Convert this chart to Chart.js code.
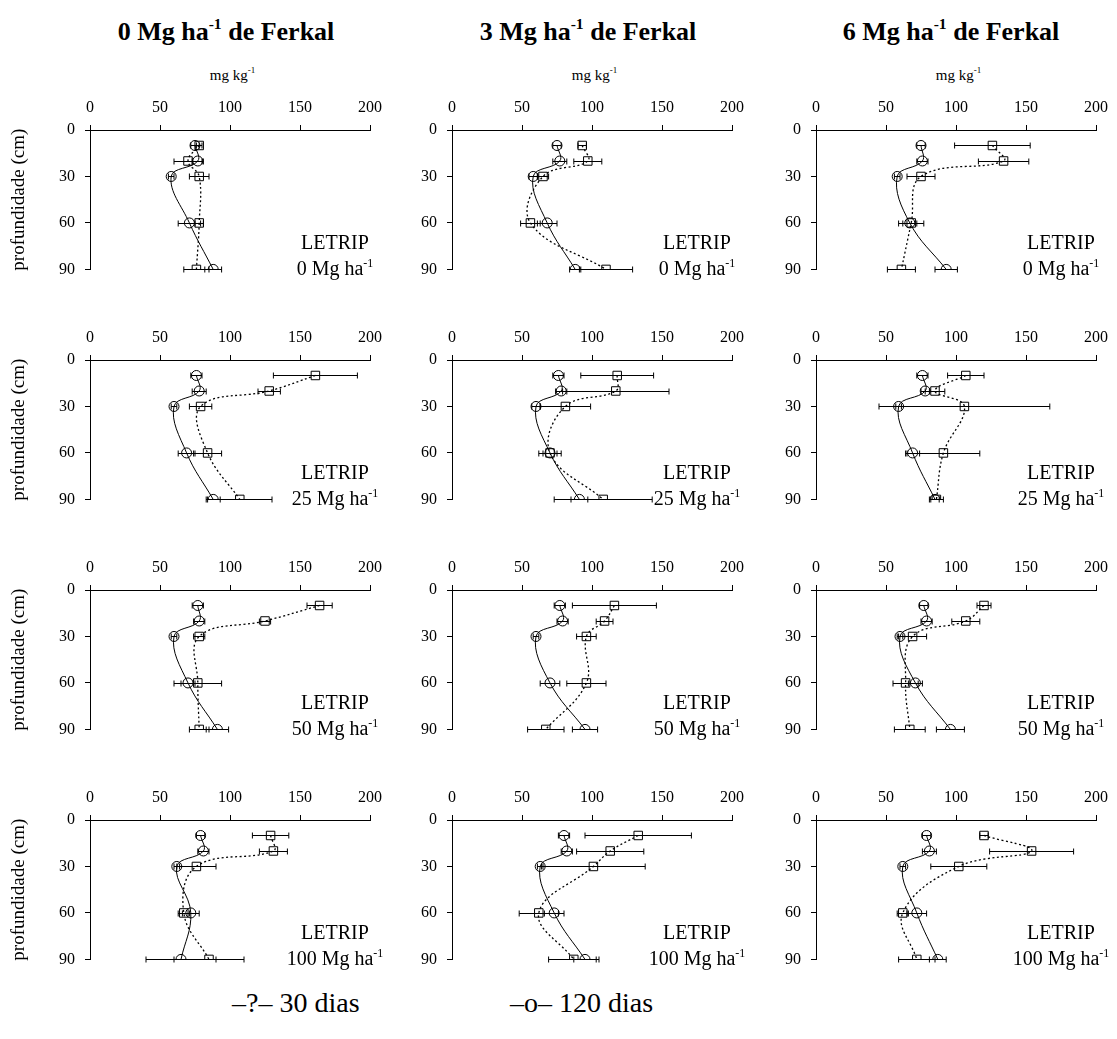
<!DOCTYPE html>
<html>
<head>
<meta charset="utf-8">
<script src="https://cdn.jsdelivr.net/npm/chart.js@4.4.1/dist/chart.umd.min.js"></script>
<style>
  html, body { margin:0; padding:0; background:#fff; }
  #page { position:relative; width:1117px; height:1039px; overflow:hidden; font-family:"Liberation Serif","Times New Roman",serif; color:#000; }
  .title { position:absolute; font-weight:bold; font-size:26px; white-space:nowrap; transform:translate(-50%,-50%); }
  .unit { position:absolute; font-size:15px; white-space:nowrap; transform:translate(-50%,-50%); }
  .lab { position:absolute; font-size:20px; line-height:26px; text-align:center; white-space:nowrap; transform:translateX(-50%); z-index:5; }
  sup { font-size:0.6em; vertical-align:0.7em; line-height:0; }
  canvas.pc { position:absolute; }
  .leg { position:absolute; font-size:28px; white-space:nowrap; transform:translateY(-50%); }
</style>
</head>
<body>
<div id="page"></div>
<script>
// ---------- data ----------
const depths = [10, 20, 30, 60, 90];           // profundidade (cm)
const ferkalDoses = ['0', '3', '6'];            // Mg ha-1 de Ferkal (columns)
const letripDoses = ['0', '25', '50', '100'];   // LETRIP Mg ha-1 (rows)
const xTickStep = 50, xMax = 200;
const yTicks = [0, 30, 60, 90];

// 120 dias (circles) — one row per Ferkal dose (0, 3, 6)
const ci_L0   = [[75,77,58,71,88],[75,77,58,68,88],[75,76,58,67,93]];
const ci_L25  = [[76,78,60,69,88],[76,78,60,70,91],[76,78,59,69,85]];
const ci_L50  = [[77,78,60,70,91],[77,79,60,70,95],[77,79,60,71,96]];
const ci_L100 = [[79,81,62,72,65],[80,82,63,73,95],[79,81,62,72,87]];
const ciErr_L0   = [[3,4,2,8,6],[3,5,3,7,4],[3,4,2,5,8]];
const ciErr_L25  = [[4,5,2,6,5],[4,4,3,5,6],[4,3,2,5,3]];
const ciErr_L50  = [[4,4,2,5,8],[4,4,2,7,9],[3,4,2,5,10]];
const ciErr_L100 = [[3,4,2,6,25],[4,4,2,7,8],[3,5,2,7,6]];

// 30 dias (squares)
const sq_L0   = [[78,70,78,78,76],[93,97,65,56,110],[126,134,75,68,61]];
const sq_L25  = [[161,128,79,84,107],[118,117,81,70,108],[107,85,106,91,86]];
const sq_L50  = [[164,125,78,77,78],[116,109,96,96,67],[120,107,69,64,67]];
const sq_L100 = [[129,131,76,67,85],[133,113,101,62,87],[120,154,102,62,72]];
const sqErr_L0   = [[2,10,7,3,9],[3,10,4,7,19],[27,18,10,9,10]];
const sqErr_L25  = [[30,8,8,10,23],[26,38,18,8,35],[13,7,61,26,5]];
const sqErr_L50  = [[9,4,4,17,7],[30,6,7,14,13],[5,10,10,9,11]];
const sqErr_L100 = [[13,10,14,4,25],[38,24,37,14,18],[3,30,20,4,13]];

const ciRows = [ci_L0, ci_L25, ci_L50, ci_L100];
const ciErrRows = [ciErr_L0, ciErr_L25, ciErr_L50, ciErr_L100];
const sqRows = [sq_L0, sq_L25, sq_L50, sq_L100];
const sqErrRows = [sqErr_L0, sqErr_L25, sqErr_L50, sqErr_L100];

// ---------- layout ----------
const plotLefts = [90, 452, 816];
const plotTops = [130, 360, 590, 820];
const PW = 285, PH = 149, AXW = 90, AXH = 45, PADR = 15, PADB = 10;
const FONT = '"Liberation Serif","Times New Roman",serif';

const page = document.getElementById('page');
function addDiv(cls, html, x, y) {
  const d = document.createElement('div');
  d.className = cls; d.innerHTML = html;
  d.style.left = x + 'px'; d.style.top = y + 'px';
  page.appendChild(d); return d;
}
const titleCenters = [226, 588, 951];
ferkalDoses.forEach((f, c) => {
  addDiv('title', f + ' Mg ha<sup>-1</sup> de Ferkal', titleCenters[c], 32);
  addDiv('unit', 'mg kg<sup>-1</sup>', plotLefts[c] + PW / 2, 75);
});

const errorBars = {
  id: 'errorBars',
  afterDatasetsDraw(chart) {
    const ctx = chart.ctx, xs = chart.scales.x, ys = chart.scales.y;
    ctx.save();
    ctx.strokeStyle = '#000'; ctx.lineWidth = 1;
    chart.data.datasets.forEach(ds => {
      if (!ds.errors) return;
      ds.data.forEach((p, i) => {
        const e = ds.errors[i];
        const y = Math.round(ys.getPixelForValue(p.y)) + 0.5;
        const x1 = xs.getPixelForValue(p.x - e), x2 = xs.getPixelForValue(p.x + e);
        ctx.beginPath();
        ctx.moveTo(x1, y); ctx.lineTo(x2, y);
        ctx.moveTo(x1, y - 3); ctx.lineTo(x1, y + 3);
        ctx.moveTo(x2, y - 3); ctx.lineTo(x2, y + 3);
        ctx.stroke();
      });
    });
    ctx.restore();
  }
};

function pts(vals) { return vals.map((v, i) => ({ x: v, y: depths[i] })); }

letripDoses.forEach((L, r) => {
  ferkalDoses.forEach((f, c) => {
    const cv = document.createElement('canvas');
    cv.className = 'pc';
    const W = AXW + PW + PADR, H = AXH + PH + PADB;
    cv.width = W; cv.height = H;
    cv.style.width = W + 'px'; cv.style.height = H + 'px';
    cv.style.left = (plotLefts[c] - AXW) + 'px';
    cv.style.top = (plotTops[r] - AXH) + 'px';
    page.appendChild(cv);

    new Chart(cv.getContext('2d'), {
      type: 'scatter',
      data: {
        datasets: [
          {
            label: '30 dias',
            data: pts(sqRows[r][c]),
            errors: sqErrRows[r][c],
            showLine: true, tension: 0.4,
            borderColor: '#000', borderWidth: 1.3, borderDash: [2, 2.5],
            pointStyle: 'rect', pointRadius: 6,
            pointBorderColor: '#000', pointBackgroundColor: 'rgba(0,0,0,0)', pointBorderWidth: 1
          },
          {
            label: '120 dias',
            data: pts(ciRows[r][c]),
            errors: ciErrRows[r][c],
            showLine: true, tension: 0.4,
            borderColor: '#000', borderWidth: 1,
            pointStyle: 'circle', pointRadius: 5,
            pointBorderColor: '#000', pointBackgroundColor: 'rgba(0,0,0,0)', pointBorderWidth: 1
          }
        ]
      },
      options: {
        responsive: false, animation: false, devicePixelRatio: 1,
        layout: { padding: { left: 0, right: PADR, top: 0, bottom: PADB } },
        plugins: { legend: { display: false }, tooltip: { enabled: false } },
        scales: {
          x: {
            type: 'linear', position: 'top', min: 0, max: xMax,
            afterFit: s => { s.height = AXH; },
            ticks: { stepSize: xTickStep, color: '#000', font: { family: FONT, size: 16 }, padding: 8, maxRotation: 0 },
            grid: { drawOnChartArea: false, tickLength: 5, color: '#000', lineWidth: 1 },
            border: { color: '#000', width: 1 }
          },
          y: {
            type: 'linear', position: 'left', reverse: true, min: 0, max: 90,
            afterFit: s => { s.width = AXW; },
            afterBuildTicks: s => { s.ticks = yTicks.map(v => ({ value: v })); },
            ticks: { color: '#000', font: { family: FONT, size: 16 }, padding: 10 },
            grid: { drawOnChartArea: false, tickLength: 5, color: '#000', lineWidth: 1 },
            border: { color: '#000', width: 1 },
            title: { display: c === 0, text: 'profundidade (cm)', color: '#000', font: { family: FONT, size: 19 }, padding: { top: 8, bottom: 0 } }
          }
        }
      },
      plugins: [errorBars]
    });

    addDiv('lab', 'LETRIP<br>' + L + ' Mg ha<sup>-1</sup>', plotLefts[c] + 245, plotTops[r] + 99);
  });
});

addDiv('leg', '&ndash;?&ndash; 30 dias', 232, 1003);
addDiv('leg', '&ndash;o&ndash; 120 dias', 510, 1003);
</script>
</body>
</html>
